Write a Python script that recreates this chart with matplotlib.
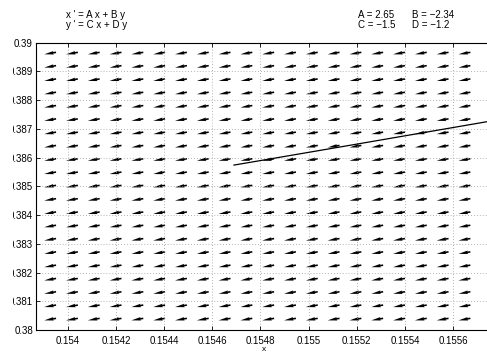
import numpy as np
import matplotlib
matplotlib.use('Agg')
from matplotlib import pyplot as plt
from matplotlib.patches import Rectangle

plt.rcParams['font.family'] = ['Liberation Sans', 'DejaVu Sans']

# linear system parameters
A, B, C, D = 2.65, -2.34, -1.5, -1.2

# field grid (data coords)
xField = 0.153927 + 0.0000905 * np.arange(20)
yField = np.linspace(0.38037, 0.38963, 21)

# solution curve
trajX = [0.15469, 0.15520, 0.15574, 0.15590]
trajY = [0.38574, 0.38647, 0.38725, 0.38748]

xTicks = [0.154, 0.1542, 0.1544, 0.1546, 0.1548, 0.155, 0.1552, 0.1554, 0.1556]
xTickLabels = ['0.154', '0.1542', '0.1544', '0.1546', '0.1548', '0.155', '0.1552', '0.1554', '0.1556']
yTicks = [0.38, 0.381, 0.382, 0.383, 0.384, 0.385, 0.386, 0.387, 0.388, 0.389, 0.39]
yTickLabels = ['0.38', '0.381', '0.382', '0.383', '0.384', '0.385', '0.386', '0.387', '0.388', '0.389', '0.39']

fig = plt.figure(figsize=(4.87, 3.54), dpi=100)
ax = fig.add_axes([0.0733, 0.0678, 0.937, 0.8116])

X, Y = np.meshgrid(xField, yField)
U = A * X + B * Y
V = C * X + D * Y
N = np.hypot(U, V)
ax.quiver(X, Y, U / N, V / N, angles='xy', scale_units='dots', scale=1 / 12.0,
          units='dots', width=1.6, headwidth=2.2, headlength=6.0, headaxislength=5.5,
          pivot='mid', color='k')

ax.plot(trajX, trajY, 'k-', lw=0.9)

ax.set_xlim(0.153867, 0.155761)
ax.set_ylim(0.38, 0.39)
ax.set_xticks(xTicks)
ax.set_xticklabels(xTickLabels)
ax.set_yticks(yTicks)
ax.set_yticklabels(yTickLabels)
ax.tick_params(direction='in', length=3, width=0.6, labelsize=7, top=True, right=True)
ax.tick_params(axis='y', pad=2)
ax.tick_params(axis='x', pad=4)
ax.grid(True, linestyle=(0, (1, 2.5)), color='#999999', linewidth=0.6)
for s in ax.spines.values():
    s.set_linewidth(0.8)

ax.set_xlabel('x', fontsize=6, labelpad=0.5)

# the left strip of the source picture is blank and cuts the long y labels
fig.patches.append(Rectangle((0, 0), 12.5 / 487, 1, transform=fig.transFigure,
                             facecolor='white', edgecolor='none', zorder=10))

fig.text(66 / 487, 1 - 15 / 354, "x ' = A x + B y", fontsize=7, va='center')
fig.text(66 / 487, 1 - 25.5 / 354, "y ' = C x + D y", fontsize=7, va='center')
fig.text(358 / 487, 1 - 14.5 / 354, 'A = 2.65', fontsize=7, va='center')
fig.text(412 / 487, 1 - 14.5 / 354, 'B = \u22122.34', fontsize=7, va='center')
fig.text(358 / 487, 1 - 25 / 354, 'C = \u22121.5', fontsize=7, va='center')
fig.text(412 / 487, 1 - 25 / 354, 'D = \u22121.2', fontsize=7, va='center')

plt.savefig('out.png', dpi=100)
